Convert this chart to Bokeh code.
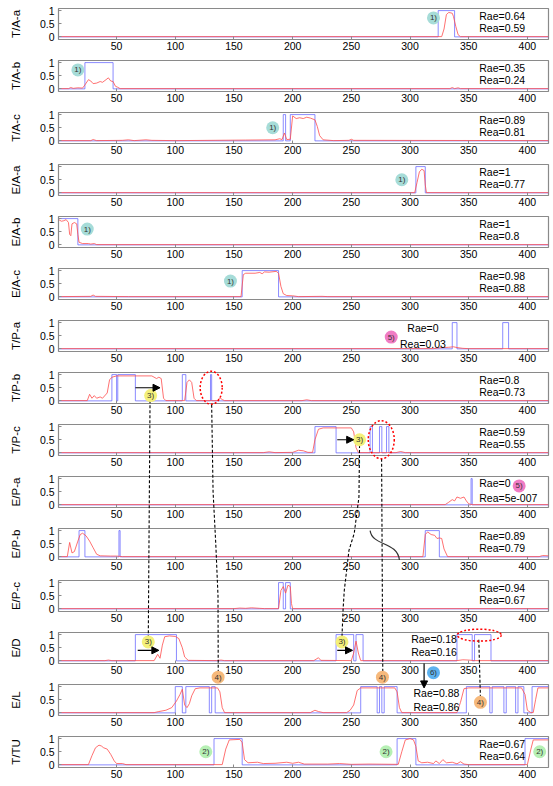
import numpy as np
from bokeh.plotting import figure
from bokeh.layouts import column
from bokeh.models import FixedTicker, Label, Arrow, NormalHead, Range1d
from bokeh.core.properties import value
from bokeh.embed import file_html
from bokeh.resources import INLINE

# ---------------- data ----------------
panel_names = ["T/A-a", "T/A-b", "T/A-c", "E/A-a", "E/A-b", "E/A-c", "T/P-a", "T/P-b",
               "T/P-c", "E/P-a", "E/P-b", "E/P-c", "E/D", "E/L", "T/TU"]
rae_values = ["0.64", "0.35", "0.89", "1", "1", "0.98", "0", "0.8", "0.59", "0", "0.89",
              "0.94", "0.18", "0.88", "0.67"]
rea_values = ["0.59", "0.24", "0.81", "0.77", "0.8", "0.88", "0.03", "0.73", "0.55", "5e-007",
              "0.79", "0.67", "0.16", "0.86", "0.64"]
x_ticks = [50, 100, 150, 200, 250, 300, 350, 400]
y_ticks = [0, 0.5, 1]

# ground truth (blue): intervals where the label is 1
truth_TA_a = [(324, 338)]
truth_TA_b = [(23, 47)]
truth_TA_c = [(192, 194), (198, 219)]
truth_EA_a = [(305, 313)]
truth_EA_b = [(1, 17)]
truth_EA_c = [(157, 188)]
truth_TP_a = [(336, 340), (379, 384)]
truth_TP_b = [(46, 50), (51, 66), (106, 109), (130, 131)]
truth_TP_c = [(219, 237), (266, 268), (274, 276), (280, 282)]
truth_EP_a = [(352, 353)]
truth_EP_b = [(18, 23), (52, 53), (313, 325)]
truth_EP_c = [(188, 192), (194, 198)]
truth_ED = [(66, 101), (237, 252), (254, 260), (340, 353), (355, 369)]
truth_EL = [(100, 106), (109, 129), (131, 134), (258, 272), (274, 276), (278, 289),
            (348, 368), (370, 380), (382, 390), (392, 397), (404, 418)]
truth_TTU = [(133, 157), (289, 305), (398, 418)]

# prediction (red): (x, value) points
pred_TA_a = [(1, 0.01), (327, 0.01), (329, 0.3), (331, 0.85), (333, 0.93), (336, 0.9), (337, 0.78),
             (339, 0.4), (341, 0.08), (343, 0.01), (418, 0.01)]
pred_TA_b = [(1, 0.01), (9, 0.01), (11, 0.05), (13, 0.02), (17, 0.04), (21, 0.03), (23, 0.15), (26, 0.35),
             (28, 0.3), (30, 0.2), (33, 0.22), (36, 0.28), (38, 0.25), (41, 0.35), (43, 0.42), (45, 0.3),
             (47, 0.28), (49, 0.1), (51, 0.06), (53, 0.01), (334, 0.01), (336, 0.05), (338, 0.01),
             (341, 0.04), (343, 0.01), (418, 0.01)]
pred_TA_c = [(1, 0.01), (28, 0.01), (30, 0.05), (33, 0.01), (55, 0.02), (60, 0.04), (65, 0.01), (75, 0.04),
             (80, 0.02), (100, 0.01), (160, 0.03), (185, 0.04), (189, 0.08), (191, 0.05), (193, 0.3),
             (195, 0.05), (198, 0.06), (200, 0.95), (203, 0.85), (206, 0.88), (209, 0.85), (212, 0.9),
             (215, 0.87), (219, 0.8), (221, 0.55), (223, 0.2), (226, 0.04), (235, 0.01), (248, 0.02),
             (250, 0.06), (252, 0.02), (418, 0.01)]
pred_EA_a = [(1, 0.01), (304, 0.01), (306, 0.4), (308, 0.8), (310, 0.9), (312, 0.85), (313, 0.3),
             (314, 0.01), (418, 0.01)]
pred_EA_b = [(1, 0.95), (3, 0.9), (5, 0.92), (7, 0.96), (9, 0.85), (10, 0.4), (11, 0.35), (12, 0.8),
             (14, 0.85), (16, 0.8), (17, 0.4), (18, 0.1), (21, 0.05), (26, 0.05), (28, 0.03), (31, 0.05),
             (33, 0.01), (418, 0.01)]
pred_EA_c = [(1, 0.01), (28, 0.02), (30, 0.07), (32, 0.02), (60, 0.01), (156, 0.01), (158, 0.85),
             (160, 0.9), (168, 0.9), (172, 0.93), (174, 0.88), (176, 0.95), (180, 0.94), (186, 0.97),
             (188, 0.9), (190, 0.4), (192, 0.12), (195, 0.05), (200, 0.04), (205, 0.01), (225, 0.02),
             (230, 0.01), (418, 0.01)]
pred_TP_a = [(1, 0.01), (320, 0.01), (325, 0.04), (333, 0.06), (337, 0.08), (340, 0.05), (345, 0.02),
             (350, 0.01), (418, 0.01)]
pred_TP_b = [(1, 0.01), (25, 0.01), (27, 0.25), (29, 0.1), (31, 0.2), (33, 0.1), (36, 0.15), (38, 0.1),
             (42, 0.3), (44, 0.8), (46, 0.9), (50, 0.95), (80, 0.95), (84, 0.85), (86, 0.9), (88, 0.85),
             (90, 0.1), (92, 0.01), (108, 0.01), (110, 0.7), (112, 0.8), (114, 0.7), (116, 0.1),
             (118, 0.01), (136, 0.01), (138, 0.12), (140, 0.05), (142, 0.01), (208, 0.01), (212, 0.04),
             (216, 0.01), (418, 0.01)]
pred_TP_c = [(1, 0.01), (175, 0.01), (180, 0.04), (185, 0.01), (200, 0.02), (205, 0.1), (209, 0.08),
             (213, 0.02), (217, 0.02), (219, 0.5), (222, 0.9), (226, 0.95), (250, 0.95), (252, 0.8),
             (254, 0.2), (256, 0.01), (288, 0.01), (292, 0.05), (296, 0.01), (418, 0.01)]
pred_EP_a = [(1, 0.01), (330, 0.01), (333, 0.1), (336, 0.2), (338, 0.15), (340, 0.3), (343, 0.25),
             (346, 0.3), (348, 0.15), (350, 0.04), (353, 0.01), (418, 0.01)]
pred_EP_b = [(1, 0.01), (8, 0.01), (10, 0.55), (12, 0.15), (14, 0.2), (17, 0.6), (19, 0.85), (21, 0.9),
             (24, 0.8), (27, 0.6), (30, 0.35), (33, 0.1), (36, 0.04), (45, 0.03), (50, 0.03), (55, 0.01),
             (311, 0.01), (313, 0.85), (315, 0.95), (318, 0.85), (321, 0.82), (323, 0.7), (325, 0.72),
             (327, 0.7), (329, 0.3), (332, 0.01), (410, 0.01), (413, 0.05), (418, 0.04)]
pred_EP_c = [(1, 0.01), (150, 0.01), (155, 0.03), (160, 0.02), (165, 0.04), (172, 0.02), (176, 0.01),
             (188, 0.01), (190, 0.7), (192, 0.85), (194, 0.6), (196, 0.9), (198, 0.85), (199, 0.2),
             (200, 0.01), (418, 0.01)]
pred_ED = [(1, 0.01), (40, 0.01), (43, 0.03), (46, 0.01), (82, 0.01), (85, 0.25), (87, 0.1), (89, 0.6),
           (91, 0.92), (95, 0.95), (100, 0.93), (103, 0.85), (106, 0.5), (108, 0.15), (111, 0.02),
           (135, 0.01), (139, 0.03), (142, 0.01), (218, 0.01), (222, 0.12), (224, 0.02), (250, 0.01),
           (252, 0.3), (254, 0.75), (256, 0.3), (258, 0.01), (340, 0.01), (345, 0.04), (350, 0.03),
           (355, 0.01), (418, 0.01)]
pred_EL = [(1, 0.01), (82, 0.01), (86, 0.05), (92, 0.1), (97, 0.2), (101, 0.45), (104, 0.7), (106, 0.9),
           (108, 0.3), (110, 0.2), (112, 0.35), (114, 0.65), (117, 0.92), (121, 0.95), (136, 0.95),
           (138, 0.8), (140, 0.2), (142, 0.01), (215, 0.01), (219, 0.1), (222, 0.05), (226, 0.01),
           (246, 0.01), (249, 0.1), (252, 0.3), (255, 0.85), (258, 0.95), (287, 0.95), (289, 0.8),
           (291, 0.2), (293, 0.01), (340, 0.01), (343, 0.4), (346, 0.92), (350, 0.95), (395, 0.95),
           (398, 0.7), (400, 0.1), (403, 0.01), (405, 0.01), (407, 0.5), (409, 0.95), (418, 0.95)]
pred_TTU = [(1, 0.01), (26, 0.01), (29, 0.35), (32, 0.65), (35, 0.75), (37, 0.72), (39, 0.65), (42, 0.6),
            (45, 0.4), (48, 0.15), (50, 0.05), (55, 0.05), (58, 0.01), (140, 0.01), (143, 0.6),
            (146, 0.95), (155, 0.97), (157, 0.85), (159, 0.2), (162, 0.08), (170, 0.1), (175, 0.05),
            (185, 0.06), (195, 0.1), (200, 0.06), (205, 0.1), (210, 0.03), (230, 0.03), (240, 0.05),
            (250, 0.02), (265, 0.03), (290, 0.02), (293, 0.5), (296, 0.95), (300, 1.0), (303, 0.95),
            (305, 0.7), (307, 0.15), (310, 0.08), (315, 0.1), (320, 0.05), (322, 0.15), (325, 0.05),
            (328, 0.2), (331, 0.08), (336, 0.1), (340, 0.04), (343, 0.12), (346, 0.03), (350, 0.01),
            (400, 0.01), (403, 0.6), (405, 0.95), (418, 0.95)]

truth_list = [truth_TA_a, truth_TA_b, truth_TA_c, truth_EA_a, truth_EA_b, truth_EA_c, truth_TP_a,
              truth_TP_b, truth_TP_c, truth_EP_a, truth_EP_b, truth_EP_c, truth_ED, truth_EL, truth_TTU]
pred_list = [pred_TA_a, pred_TA_b, pred_TA_c, pred_EA_a, pred_EA_b, pred_EA_c, pred_TP_a, pred_TP_b,
             pred_TP_c, pred_EP_a, pred_EP_b, pred_EP_c, pred_ED, pred_EL, pred_TTU]

# ---------------- annotation placement (panel index, x, y in that panel) ----------------
text_pos = {i: (359, 0.8, 0.33, "left") for i in range(15)}
text_pos[6] = (311, 0.78, 0.2, "center")
text_pos[9] = (359, 0.85, 0.25, "left")
text_pos[12] = (340, 0.85, 0.35, "right")
text_pos[13] = (303, 0.77, 0.23, "left")

badge_colors = {"teal": "#a6dcd8", "pink": "#f07cc4", "yellow": "#f4f07a",
                "orange": "#f6b97c", "blue": "#5db2f0", "green": "#b6f0b4"}
badges = [(0, 320, 0.72, "1)", "teal"), (1, 17, 0.72, "1)", "teal"), (2, 183, 0.5, "1)", "teal"),
          (3, 293, 0.5, "1)", "teal"), (4, 25, 0.6, "1)", "teal"), (5, 147, 0.6, "1)", "teal"),
          (6, 284, 0.45, "5)", "pink"), (7, 79, 0.2, "3)", "yellow"), (8, 257, 0.5, "3)", "yellow"),
          (9, 393, 0.72, "5)", "pink"), (12, 77, 0.72, "3)", "yellow"), (12, 242, 0.72, "3)", "yellow"),
          (13, 360, 0.4, "4)", "orange"), (14, 126, 0.5, "2)", "green"),
          (14, 279.6, 0.5, "2)", "green"), (14, 410.5, 0.5, "2)", "green"),
          (12, 136.5, -0.62, "4)", "orange"), (12, 276.5, -0.62, "4)", "orange"),
          (12, 320, -0.45, "6)", "blue")]

# arrows with heads: (panel_start, x, y, panel_end, x, y)
head_arrows = [(7, 66, 0.5, 7, 87, 0.5), (8, 238, 0.5, 8, 252, 0.5), (12, 68, 0.4, 12, 86, 0.4),
               (12, 238, 0.4, 12, 251, 0.4), (12, 312, -0.1, 13, 312, 0.95)]
dashed_paths = [
    [(7, 78.5, 0.02), (12, 77, 0.88)],
    [(7, 131, -0.15), (9, 132.2, 0.5), (10, 134.5, 0.5), (11, 136.4, 0.5), (12, 136.6, -0.4)],
    [(8, 257, 0.3), (9, 256.5, 0.3), (10, 252.5, 0.9), (10, 248, 0.25), (11, 244, 0.7),
     (11, 243, 0.0), (12, 242, 0.88)],
    [(8, 275.8, -0.22), (12, 276.8, -0.45)],
    [(12, 358.6, 0.8), (13, 360, 0.58)],
]
ellipses = [(7, 130.6, 0.5, 22, 33), (8, 275.5, 0.5, 26, 38), (12, 359, 0.98, 44, 12)]
curve_EPb = (10, 266, 1.0, 291, -0.12, 268, 0.4, 289, 0.6)

# ---------------- layout ----------------
W, H, H0 = 550, 52, 58
LB, RB, TB, TB0, BB = 58, 2, 2, 8, 19
X_LO, X_HI = 0.5, 418
Y_LO, Y_HI = -0.1, 1.08
PPY = (H - TB - BB) / (Y_HI - Y_LO)
PITCH = H / PPY
FONT = "Liberation Sans"
NP = len(panel_names)
TOTAL_H = H0 + H * (NP - 1)


def g(j, y):
    """panel-local y -> overlay (stacked) y"""
    return y - j * PITCH


def step_xy(intervals):
    xs, ys = [X_LO], [0.0]
    for s, e in intervals:
        if s <= 1:
            xs, ys = [X_LO], [1.0]
        else:
            xs += [s, s]
            ys += [0.0, 1.0]
        if e >= X_HI:
            xs.append(X_HI)
            ys.append(1.0)
            return xs, ys
        xs += [e, e]
        ys += [1.0, 0.0]
    xs.append(X_HI)
    ys.append(0.0)
    return xs, ys


figs = []
for i, name in enumerate(panel_names):
    p = figure(width=W, height=H0 if i == 0 else H, x_range=Range1d(X_LO, X_HI),
               y_range=Range1d(Y_LO, Y_HI), output_backend="svg", toolbar_location=None,
               min_border_left=LB, min_border_right=RB, min_border_top=TB0 if i == 0 else TB,
               min_border_bottom=BB)
    p.outline_line_color = "#8a8a8a"
    p.outline_line_width = 1.2
    p.xgrid.visible = False
    p.ygrid.visible = False

    p.xaxis.ticker = FixedTicker(ticks=x_ticks, minor_ticks=[])
    p.yaxis.ticker = FixedTicker(ticks=y_ticks, minor_ticks=[])
    p.yaxis.major_label_overrides = {0: "0", 0.5: "0.5", 1: "1"}
    for ax in (p.xaxis, p.yaxis):
        ax.axis_line_color = None
        ax.major_tick_in = 3
        ax.major_tick_out = 0
        ax.major_tick_line_color = "#8a8a8a"
        ax.minor_tick_line_color = None
        ax.major_label_text_font = FONT
        ax.major_label_text_font_size = "10.5px"
        ax.major_label_text_color = "black"
    p.xaxis.major_label_standoff = 2
    p.yaxis.major_label_standoff = 4
    p.yaxis.axis_label = name
    p.yaxis.axis_label_text_font = FONT
    p.yaxis.axis_label_text_font_size = "11.5px"
    p.yaxis.axis_label_text_font_style = "normal"
    p.yaxis.axis_label_text_color = "black"
    p.yaxis.axis_label_standoff = 15

    bx, by = step_xy(truth_list[i])
    p.line(bx, by, line_color="#5a5aff", line_alpha=0.7, line_width=1)
    rx = [pt[0] for pt in pred_list[i]]
    ry = [pt[1] for pt in pred_list[i]]
    p.line(rx, ry, line_color="#ff4d4d", line_alpha=0.8, line_width=1)

    tx, y1, y2, al = text_pos[i]
    for yy, t in ((y1, "Rae=" + rae_values[i]), (y2, "Rea=" + rea_values[i])):
        p.add_layout(Label(x=tx, y=yy, text=t, text_align=al, text_baseline="middle",
                           text_font=FONT, text_font_size="10.5px", text_color="black"))
    figs.append(p)

stack = column(*figs, spacing=0)

# ---------------- transparent overlay for marks that cross panels ----------------
ov = figure(width=W, height=TOTAL_H, x_range=Range1d(X_LO, X_HI),
            y_range=Range1d(g(NP - 1, Y_LO - BB / PPY), Y_HI + TB0 / PPY),
            output_backend="svg", toolbar_location=None, x_axis_type=None, y_axis_type=None,
            min_border_left=LB, min_border_right=RB, min_border_top=0, min_border_bottom=0,
            title=None)
ov.background_fill_alpha = 0
ov.border_fill_alpha = 0
ov.outline_line_color = None
ov.xgrid.visible = False
ov.ygrid.visible = False
ov.styles = {"position": "absolute", "top": "0px", "left": "0px", "z-index": "5"}

for path in dashed_paths:
    ov.line([pt[1] for pt in path], [g(pt[0], pt[2]) for pt in path], line_color="black",
            line_width=1.1, line_dash="3 2")

for (j, cx, cy, wpx, hpx) in ellipses:
    ov.ellipse(x=[cx], y=[g(j, cy)], width=wpx, height=hpx, width_units="screen",
               height_units="screen", fill_color=None, line_color="red", line_width=1.5,
               line_dash="2 2")

j, x0, y0, x1, y1, cx0, cy0, cx1, cy1 = curve_EPb
ov.bezier(x0=[x0], y0=[g(j, y0)], x1=[x1], y1=[g(j, y1)], cx0=[cx0], cy0=[g(j, cy0)],
          cx1=[cx1], cy1=[g(j, cy1)], line_color="#333333", line_width=1.2)

for (ja, xa, ya, jb, xb, yb) in head_arrows:
    ov.add_layout(Arrow(end=NormalHead(size=7, fill_color="black", line_color="black"),
                        x_start=xa, y_start=g(ja, ya), x_end=xb, y_end=g(jb, yb),
                        line_color="black", line_width=1.2))

ov.scatter([b[1] for b in badges], [g(b[0], b[2]) for b in badges], size=13, marker="circle",
           fill_color=[badge_colors[b[4]] for b in badges], line_color=None)
ov.text([b[1] for b in badges], [g(b[0], b[2]) for b in badges], text=[b[3] for b in badges],
        text_font=value(FONT), text_font_size="8px", text_align="center",
        text_baseline="middle", text_color="#333333")

open("out.html", "w").write(file_html([stack, ov], INLINE))
